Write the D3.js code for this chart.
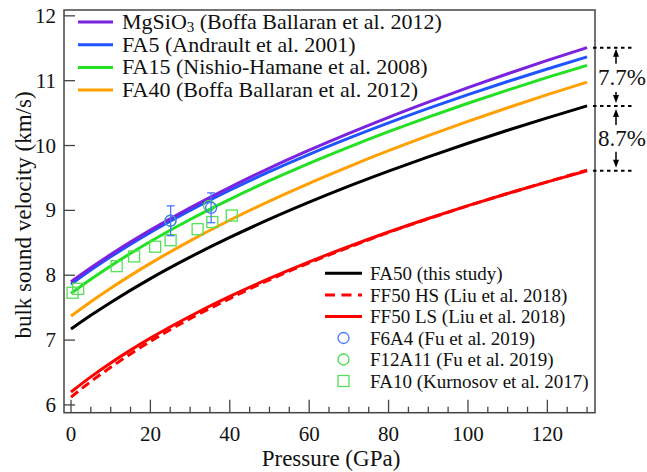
<!DOCTYPE html>
<html><head><meta charset="utf-8">
<script src="https://cdn.jsdelivr.net/npm/d3@7"></script>
<style>body{margin:0;background:#fff}svg{display:block}</style>
</head><body><svg id="c" width="647" height="472"></svg>
<script>
const pressure = [0,5,10,20,30,40,50,60,70,80,90,100,110,120,130];
const mgsio3 = [7.90,8.115,8.319,8.695,9.039,9.356,9.652,9.928,10.188,10.435,10.669,10.893,11.107,11.312,11.509];
const fa5    = [7.86,8.079,8.284,8.660,8.999,9.310,9.597,9.864,10.114,10.350,10.573,10.785,10.988,11.181,11.367];
const fa15   = [7.72,7.939,8.144,8.520,8.860,9.171,9.458,9.726,9.977,10.214,10.439,10.652,10.855,11.050,11.236];
const fa40   = [7.37,7.592,7.800,8.183,8.530,8.848,9.143,9.418,9.676,9.920,10.152,10.372,10.582,10.784,10.977];
const fa50   = [7.17,7.382,7.581,7.948,8.279,8.583,8.864,9.126,9.373,9.605,9.825,10.035,10.235,10.427,10.611];
const ff50hs = [6.12,6.36,6.58,6.98,7.33,7.64,7.93,8.19,8.43,8.66,8.87,9.07,9.26,9.44,9.62];
const ff50ls = [6.20,6.433,6.647,7.030,7.368,7.673,7.950,8.206,8.443,8.666,8.875,9.073,9.261,9.440,9.611];
const f6a4P = [25.1,35.3], f6a4V = [8.84,9.04], f6a4Err = [0.23,0.23];
const f12a11P = [25.0,34.8], f12a11V = [8.84,9.07];
const fa10P = [0.4,1.8,11.5,15.9,21.2,25.1,31.9,35.6,40.5];
const fa10V = [7.73,7.79,8.14,8.29,8.44,8.54,8.71,8.82,8.92];
const xTicks = [0,20,40,60,80,100,120];
const yTicks = [6,7,8,9,10,11,12];
const pctLabels = ["7.7%","8.7%"];

const FONT = "Liberation Serif";
const svg = d3.select("#c");
const L=64,R=595,T=10,B=412.7;
const x = d3.scaleLinear().domain([-1.76,132]).range([L,R]);
const y = d3.scaleLinear().domain([5.88,12.09]).range([B,T]);
function txt(sel){ return sel.style("font-family",FONT).attr("fill","#111"); }

const series = [
 {v:fa50,c:"#000000",label:"FA50 (this study)"},
 {v:ff50ls,c:"#ff0000",label:"FF50 LS (Liu et al. 2018)"},
 {v:ff50hs,c:"#ff0000",label:"FF50 HS (Liu et al. 2018)",dash:"9,5"},
 {v:fa40,c:"#ffa000",label:"FA40 (Boffa Ballaran et al. 2012)"},
 {v:fa15,c:"#22e022",label:"FA15 (Nishio-Hamane et al. 2008)"},
 {v:fa5,c:"#1f55ff",label:"FA5 (Andrault et al. 2001)"},
 {v:mgsio3,c:"#7a22e0",label:"MgSiO3 (Boffa Ballaran et al. 2012)"}
];
const line = d3.line().x((d,i)=>x(pressure[i])).y(d=>y(d)).curve(d3.curveMonotoneX);
series.forEach(s=>{
  svg.append("path").attr("d",line(s.v)).attr("fill","none").attr("stroke",s.c)
    .attr("stroke-width",3).attr("stroke-dasharray",s.dash||null);
});

const sq=11;
svg.selectAll(".sq").data(fa10P).enter().append("rect")
  .attr("x",(d,i)=>x(d)-sq/2).attr("y",(d,i)=>y(fa10V[i])-sq/2)
  .attr("width",sq).attr("height",sq).attr("fill","none").attr("stroke","#55e055").attr("stroke-width",1.3);
svg.selectAll(".gc").data(f12a11P).enter().append("circle")
  .attr("cx",d=>x(d)).attr("cy",(d,i)=>y(f12a11V[i])).attr("r",5.5)
  .attr("fill","none").attr("stroke","#44dd44").attr("stroke-width",1.3);
f6a4P.forEach((p,i)=>{
  const cx=x(p), y1=y(f6a4V[i]+f6a4Err[i]), y2=y(f6a4V[i]-f6a4Err[i]);
  const g=svg.append("g").attr("stroke","#4477ff").attr("stroke-width",1.3).attr("fill","none");
  g.append("line").attr("x1",cx).attr("x2",cx).attr("y1",y1).attr("y2",y2);
  g.append("line").attr("x1",cx-4).attr("x2",cx+4).attr("y1",y1).attr("y2",y1);
  g.append("line").attr("x1",cx-4).attr("x2",cx+4).attr("y1",y2).attr("y2",y2);
  g.append("circle").attr("cx",cx).attr("cy",y(f6a4V[i])).attr("r",5.5);
});

svg.append("rect").attr("x",L).attr("y",T).attr("width",R-L).attr("height",B-T)
  .attr("fill","none").attr("stroke","#444").attr("stroke-width",1.5);
const minorX = d3.range(0,131,5).filter(v=>v%20!==0);
svg.selectAll(".xm").data(xTicks).enter().append("line")
  .attr("x1",d=>x(d)).attr("x2",d=>x(d)).attr("y1",B).attr("y2",B-13).attr("stroke","#444").attr("stroke-width",1.3);
svg.selectAll(".xn").data(minorX).enter().append("line")
  .attr("x1",d=>x(d)).attr("x2",d=>x(d)).attr("y1",B).attr("y2",B-6).attr("stroke","#444").attr("stroke-width",1.3);
txt(svg.selectAll(".xl").data(xTicks).enter().append("text"))
  .attr("x",d=>x(d)).attr("y",441).attr("text-anchor","middle").attr("font-size",21).text(d=>d);
svg.selectAll(".ym").data(yTicks).enter().append("line")
  .attr("x1",L).attr("x2",L+11).attr("y1",d=>y(d)).attr("y2",d=>y(d)).attr("stroke","#444").attr("stroke-width",1.3);
txt(svg.selectAll(".yl").data(yTicks).enter().append("text"))
  .attr("x",56).attr("y",d=>y(d)+7).attr("text-anchor","end").attr("font-size",21).text(d=>d);
txt(svg.append("text")).attr("x",331).attr("y",466).attr("text-anchor","middle").attr("font-size",23).text("Pressure (GPa)");
txt(svg.append("text")).attr("transform","translate(31,215) rotate(-90)").attr("text-anchor","middle").attr("font-size",23).text("bulk sound velocity (km/s)");

const leg1 = [series[6],series[5],series[4],series[3]];
leg1.forEach((s,i)=>{
  const yy = 22 + i*22.7;
  svg.append("line").attr("x1",78).attr("x2",113).attr("y1",yy).attr("y2",yy).attr("stroke",s.c).attr("stroke-width",3);
  const t = txt(svg.append("text")).attr("x",122).attr("y",yy+7).attr("font-size",22);
  if(i===0){ t.append("tspan").text("MgSiO"); t.append("tspan").attr("font-size",15).attr("dy",3).text("3");
    t.append("tspan").attr("dy",-3).text(" (Boffa Ballaran et al. 2012)"); }
  else t.text(s.label);
});
const leg2y = [273.3,295,316.5,338,359.5,381];
const leg2 = [series[0],series[2],series[1]];
leg2.forEach((s,i)=>{
  svg.append("line").attr("x1",325).attr("x2",362).attr("y1",leg2y[i]).attr("y2",leg2y[i]).attr("stroke",s.c)
    .attr("stroke-width",3).attr("stroke-dasharray",s.dash?"10,6.5":null);
  txt(svg.append("text")).attr("x",370).attr("y",leg2y[i]+6.5).attr("font-size",19).text(s.label);
});
svg.append("circle").attr("cx",343.5).attr("cy",leg2y[3]).attr("r",5.5).attr("fill","none").attr("stroke","#4477ff").attr("stroke-width",1.3);
txt(svg.append("text")).attr("x",370).attr("y",leg2y[3]+6.5).attr("font-size",19).text("F6A4 (Fu et al. 2019)");
svg.append("circle").attr("cx",343.5).attr("cy",leg2y[4]).attr("r",5.5).attr("fill","none").attr("stroke","#44dd44").attr("stroke-width",1.3);
txt(svg.append("text")).attr("x",370).attr("y",leg2y[4]+6.5).attr("font-size",19).text("F12A11 (Fu et al. 2019)");
svg.append("rect").attr("x",343.5-sq/2).attr("y",leg2y[5]-sq/2).attr("width",sq).attr("height",sq).attr("fill","none").attr("stroke","#55e055").attr("stroke-width",1.3);
txt(svg.append("text")).attr("x",370).attr("y",leg2y[5]+6.5).attr("font-size",19).text("FA10 (Kurnosov et al. 2017)");

const last = pressure.length-1;
const ends = [mgsio3[last], fa50[last], ff50ls[last]].map(v=>y(v));
ends.forEach(yy=>{
  svg.append("line").attr("x1",593).attr("x2",634).attr("y1",yy).attr("y2",yy)
    .attr("stroke","#000").attr("stroke-width",2).attr("stroke-dasharray","3.5,3.5");
});
const ax = 616;
function arrow(y0,y1){
  const dir = y1<y0?-1:1;
  svg.append("line").attr("x1",ax).attr("x2",ax).attr("y1",y0).attr("y2",y1-dir*6).attr("stroke","#000").attr("stroke-width",1.5);
  svg.append("path").attr("d",`M${ax},${y1} L${ax-3},${y1-dir*8} L${ax+3},${y1-dir*8} Z`).attr("fill","#000");
}
arrow(ends[0]+16, ends[0]+1);
arrow(ends[1]-14, ends[1]-3);
arrow(ends[1]+19, ends[1]+3);
arrow(ends[2]-19, ends[2]-3);
txt(svg.append("text")).attr("x",622).attr("y",(ends[0]+ends[1])/2+8).attr("text-anchor","middle").attr("font-size",23).text(pctLabels[0]);
txt(svg.append("text")).attr("x",622).attr("y",(ends[1]+ends[2])/2+8).attr("text-anchor","middle").attr("font-size",23).text(pctLabels[1]);
</script></body></html>
